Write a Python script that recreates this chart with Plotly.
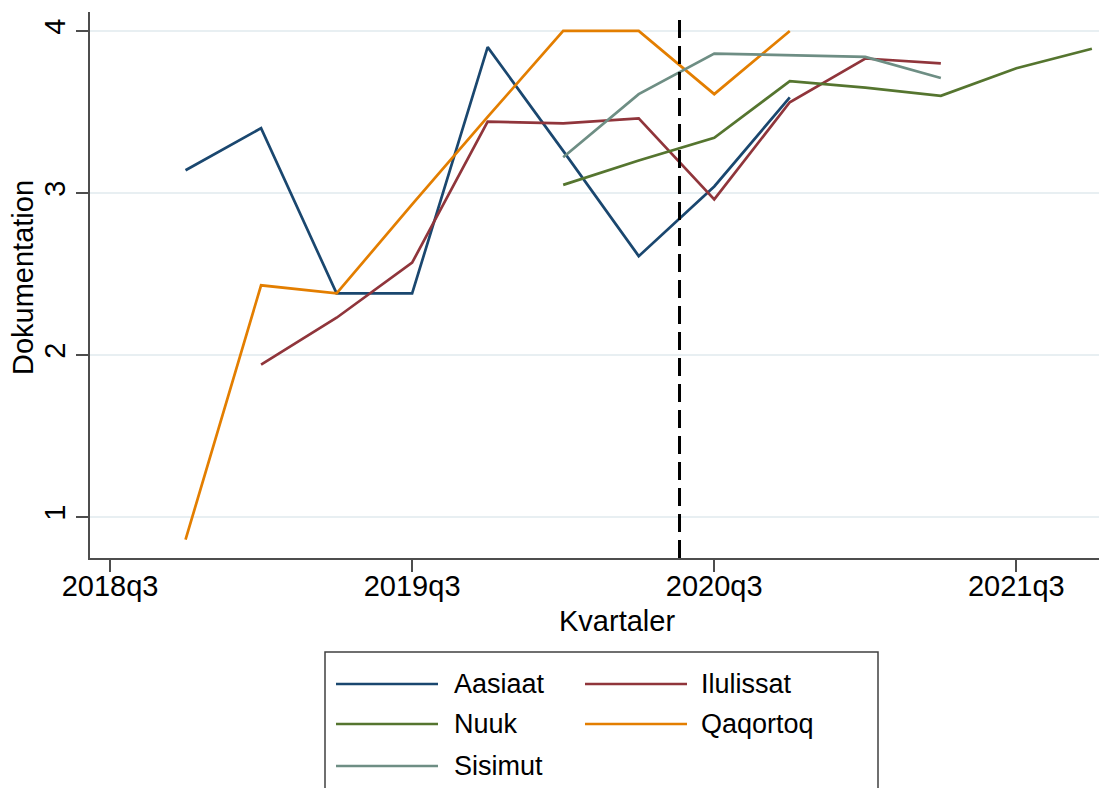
import plotly.graph_objects as go

# quarters on the x axis (index 0 = 2018q3)
quarters = ["2018q3", "2018q4", "2019q1", "2019q2", "2019q3", "2019q4", "2020q1",
            "2020q2", "2020q3", "2020q4", "2021q1", "2021q2", "2021q3", "2021q4"]
tick_labels = ["2018q3", "2019q3", "2020q3", "2021q3"]

aasiaat = [None, 3.14, 3.40, 2.38, 2.38, 3.90, 3.26, 2.61, 3.04, 3.59, None, None, None, None]
ilulissat = [None, None, 1.94, 2.23, 2.57, 3.44, 3.43, 3.46, 2.96, 3.56, 3.83, 3.80, None, None]
nuuk = [None, None, None, None, None, None, 3.05, 3.20, 3.34, 3.69, 3.65, 3.60, 3.77, 3.89]
qaqortoq = [None, 0.86, 2.43, 2.38, 2.93, 3.47, 4.00, 4.00, 3.61, 4.00, None, None, None, None]
sisimut = [None, None, None, None, None, None, 3.22, 3.61, 3.86, 3.85, 3.84, 3.71, None, None]

series = [("Aasiaat", aasiaat, "#1a476f"),
          ("Ilulissat", ilulissat, "#90353b"),
          ("Nuuk", nuuk, "#55752f"),
          ("Qaqortoq", qaqortoq, "#e37e00"),
          ("Sisimut", sisimut, "#6e8e84")]

cutoff = 7.54  # dashed reference line, in quarters after 2018q3

FONT = "Liberation Sans, Arial, sans-serif"
OFF = 8  # page body margin the browser adds round the plot div
W, H = 1107 - OFF, 788 - OFF
ML, MR, MT, MB = 90 - OFF, 0, 12 - OFF, 230
pw, ph = W - ML - MR, H - MT - MB


# page pixel -> paper coords
def px(x):
    return (x - OFF - ML) / pw


def py(y):
    return (H - MB - (y - OFF)) / ph


xidx = list(range(len(quarters)))
fig = go.Figure()
for name, vals, col in series:
    fig.add_trace(go.Scatter(x=xidx, y=vals, mode="lines", name=name,
                             line=dict(color=col, width=2.7), showlegend=False))

fig.add_vline(x=cutoff, line=dict(color="black", width=3, dash="18px,8px"))

# legend drawn by hand to get Stata-like long line keys
leg_rows = [684, 724, 766]
leg_cols = [(336, 438, 452), (585, 687, 699)]
fig.add_shape(type="rect", xref="paper", yref="paper",
              x0=px(325), x1=px(878), y0=py(652), y1=py(800),
              line=dict(color="#404040", width=1.5), fillcolor="rgba(0,0,0,0)")
for i, (name, vals, col) in enumerate(series):
    r, c = divmod(i, 2)
    x0, x1, xt = leg_cols[c]
    yy = py(leg_rows[r])
    fig.add_shape(type="line", xref="paper", yref="paper",
                  x0=px(x0), x1=px(x1), y0=yy, y1=yy, line=dict(color=col, width=2.7))
    fig.add_annotation(xref="paper", yref="paper", x=px(xt), y=yy, text=name,
                       showarrow=False, xanchor="left", yanchor="middle",
                       font=dict(family=FONT, size=27, color="black"))

# axis titles (Stata centres them a bit off the plot-area centre)
fig.add_annotation(xref="paper", yref="paper", x=px(617), y=py(621), text="Kvartaler",
                   showarrow=False, xanchor="center", yanchor="middle",
                   font=dict(family=FONT, size=29, color="black"))
fig.add_annotation(xref="paper", yref="paper", x=px(23), y=py(278), text="Dokumentation",
                   textangle=-90, showarrow=False, xanchor="center", yanchor="middle",
                   font=dict(family=FONT, size=29, color="black"))

fig.update_layout(
    width=W, height=H,
    margin=dict(l=ML, r=MR, t=MT, b=MB),
    plot_bgcolor="white", paper_bgcolor="white",
    font=dict(family=FONT, size=29, color="black"),
    showlegend=False,
)
fig.update_xaxes(
    range=[-0.265, 13.2], tickmode="array",
    tickvals=[quarters.index(t) for t in tick_labels], ticktext=tick_labels,
    showgrid=False, zeroline=False, showline=True, linecolor="#4d4d4d", linewidth=1.5,
    ticks="outside", ticklen=12, tickcolor="#4d4d4d", tickwidth=1.5,
    ticklabelstandoff=-11, automargin=False,
)
fig.update_yaxes(
    range=[0.747, 4.117], tickvals=[1, 2, 3, 4], tickangle=-90,
    showgrid=True, gridcolor="#e8eff2", gridwidth=2, zeroline=False,
    showline=True, linecolor="#4d4d4d", linewidth=1.5,
    ticks="outside", ticklen=12, tickcolor="#4d4d4d", tickwidth=1.5,
    automargin=False,
)

fig.write_html("out.html")
